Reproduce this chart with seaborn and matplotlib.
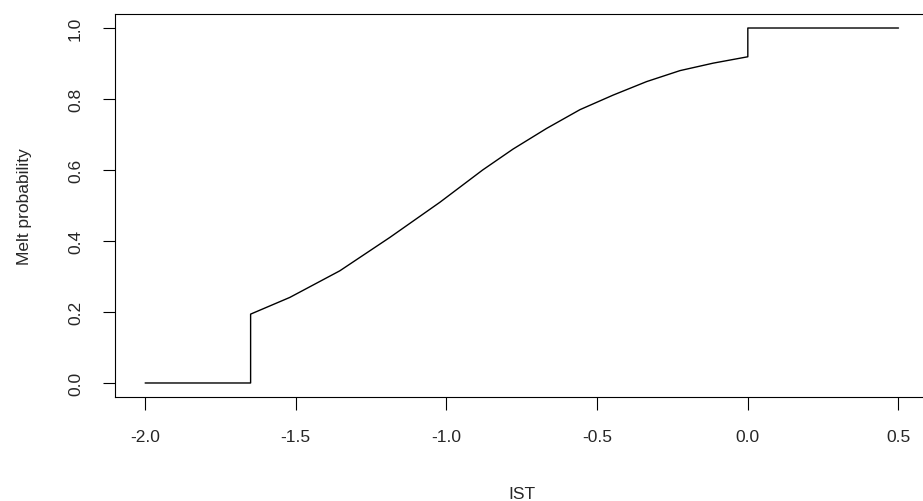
import numpy as np
import pandas as pd
import matplotlib
matplotlib.use("Agg")
import matplotlib.pyplot as plt
import seaborn as sns

# IST vs melt probability (steps at -1.65 and 0.0)
ist = [-2.0, -1.65, -1.65, -1.52, -1.354, -1.188, -1.022, -0.88, -0.779,
       -0.668, -0.557, -0.447, -0.336, -0.225, -0.115, 0.0, 0.0, 0.5]
melt = [0.0, 0.0, 0.194, 0.241, 0.316, 0.410, 0.509, 0.600, 0.659,
        0.717, 0.770, 0.811, 0.849, 0.880, 0.901, 0.919, 1.0, 1.0]
df = pd.DataFrame({"IST": ist, "melt": melt})

xticks = [-2.0, -1.5, -1.0, -0.5, 0.0, 0.5]
yticks = [0.0, 0.2, 0.4, 0.6, 0.8, 1.0]

sns.set_style("ticks")
plt.rcParams["font.family"] = ["Liberation Sans", "DejaVu Sans"]

fig = plt.figure(figsize=(9.23, 5.02), dpi=100)
ax = fig.add_axes([0.1246, 0.2068, 0.8815, 0.7637])
sns.lineplot(data=df, x="IST", y="melt", estimator=None, sort=False,
             color="black", linewidth=1.0, ax=ax)

ax.set_xlim(-2.1, 0.6)
ax.set_ylim(-0.04, 1.04)
ax.set_xticks(xticks)
ax.set_xticklabels([f"{v:.1f}" for v in xticks])
ax.set_yticks(yticks)
ax.set_yticklabels([f"{v:.1f}" for v in yticks], rotation=90, va="center")
ax.tick_params(labelsize=12.5, length=9, width=0.8, pad=14, color="black")
for s in ax.spines.values():
    s.set_visible(True)
    s.set_linewidth(0.8)
    s.set_color("black")
ax.set_xlabel("IST", fontsize=12.5, labelpad=30)
ax.set_ylabel("Melt probability", fontsize=12.5, labelpad=26)

fig.savefig("out.png", dpi=100)
